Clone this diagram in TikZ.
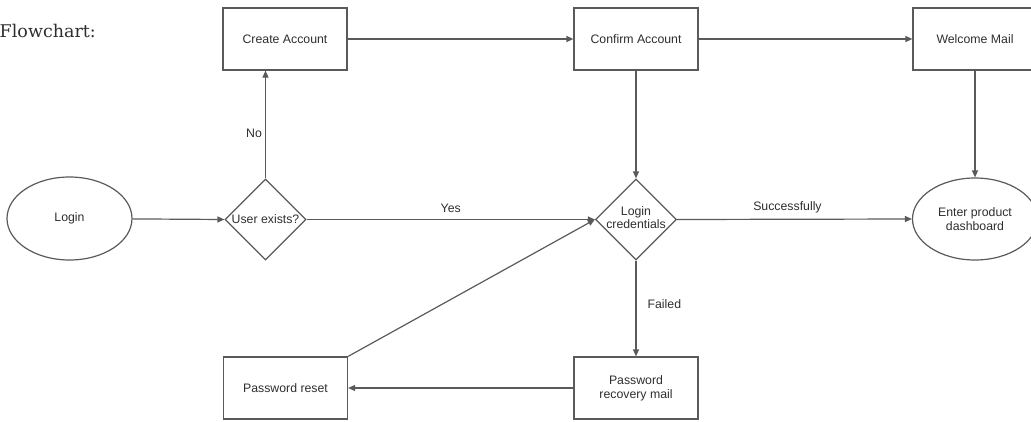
\documentclass[tikz,border=0pt]{standalone}
\usepackage{fontspec}
\setmainfont{Liberation Sans}
\newfontfamily\capfont{DejaVu Serif}
\usetikzlibrary{shapes.geometric,arrows.meta}
\definecolor{linec}{HTML}{5A5A5A}
\definecolor{textc}{HTML}{2E2E2E}
\tikzset{
  base/.style={draw=linec, line width=1.2pt, text=textc, font=\fontsize{12.3}{14}\selectfont, align=center, inner sep=0pt},
  boxnode/.style={base, rectangle, minimum width=124pt, minimum height=62pt},
  ovalnode/.style={base, ellipse, minimum width=125pt, minimum height=83pt},
  decnode/.style={base, diamond, minimum width=81pt, minimum height=81pt, aspect=1},
  conn/.style={draw=linec, line width=1.2pt, -{Triangle[length=7pt,width=6pt]}},
  lbl/.style={text=textc, font=\fontsize{12.3}{14}\selectfont, inner sep=0pt}
}
\begin{document}
\begin{tikzpicture}[x=1pt,y=-1pt]
\useasboundingbox (0,0) rectangle (1031,421);
\node[text=textc, font=\capfont\fontsize{17.5}{20}\selectfont, anchor=base east, inner sep=0pt] (title) at (96,37) {Flowchart:};
\node[boxnode] (create) at (285,39) {Create Account};
\node[boxnode] (confirm) at (636,39) {Confirm Account};
\node[boxnode] (welcome) at (975,39) {Welcome Mail};
\node[ovalnode] (login) at (69.5,218.5) {Login};
\node[decnode] (user) at (265.5,219.5) {\makebox[0pt]{User exists?}};
\node[decnode] (cred) at (636,219.5) {\makebox[0pt]{\begin{tabular}{@{}c@{}}Login\\[-1pt]credentials\end{tabular}}};
\node[ovalnode, minimum height=82pt] (dash) at (975,219) {Enter product\\dashboard};
\node[boxnode] (reset) at (285.5,388) {Password reset};
\node[boxnode] (recov) at (636,388) {Password\\recovery mail};

\draw[conn] (login) -- (user.west);
\draw[conn] (user.north) -- node[lbl, anchor=east, xshift=-3pt, pos=0.42] (nolbl) {No} (user.north |- create.south);
\draw[conn] (user.east) -- node[lbl, above=6pt] (yeslbl) {Yes} (cred.west);
\draw[conn] (create) -- (confirm);
\draw[conn] (confirm) -- (welcome);
\draw[conn] (confirm.south) -- (cred.north);
\draw[conn] (welcome.south) -- (dash.north);
\draw[conn] (cred.east) -- node[lbl, above=6pt, pos=0.47] (succlbl) {Successfully} (dash.west);
\draw[conn] (cred.south) -- node[lbl, anchor=west, xshift=11pt, pos=0.45] (faillbl) {Failed} (recov.north);
\draw[conn] (recov) -- (reset);
\draw[conn] (reset.north east) -- (cred.west);
\end{tikzpicture}
\end{document}
